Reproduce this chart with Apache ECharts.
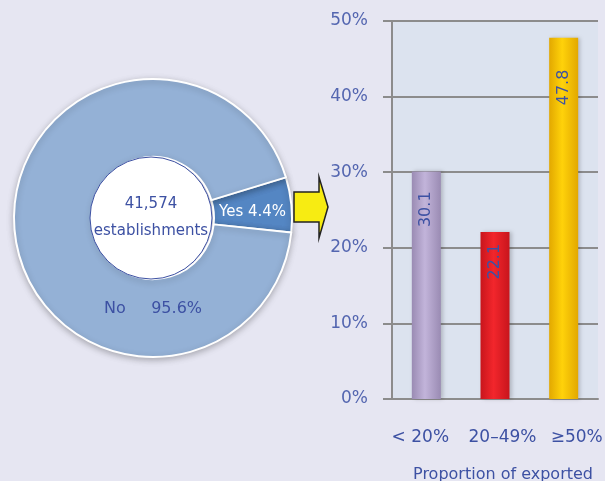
<!DOCTYPE html>
<html>
<head>
<meta charset="utf-8">
<script src="https://cdn.jsdelivr.net/npm/echarts@6/dist/echarts.min.js"></script>
<style>
  html, body { margin: 0; padding: 0; background: #e6e6f2; }
  #chart { width: 605px; height: 481px; }
</style>
</head>
<body>
<div id="chart"></div>
<script>
// pie: exporting establishments
const pieNames = ['Yes', 'No']
const pieValues = [4.4, 95.6]
const totalLabel = '41,574'
const totalUnit = 'establishments'

// bars: proportion of output exported
const barCategories = ['< 20%', '20–49%', '≥50%']
const barValues = [30.1, 22.1, 47.8]
const yTicks = [0, 10, 20, 30, 40, 50]

// styling per bar (not data)
const barColors = [
  ['#9a8bb3', '#c2b4da', '#9a8bb3'],
  ['#c8151c', '#f2262c', '#c8151c'],
  ['#e2a800', '#ffd20a', '#e2a800']
]
const labelGap = [20, 12, 32]
const catPad = [[0, 12, 0, 0], [0, 0, 0, 15], [0, 0, 0, 26]]

const blue = '#3d51a3'
const font = 'DejaVu Sans'

let chart = echarts.init(document.getElementById('chart'))

function cyl(c) {
  return new echarts.graphic.LinearGradient(0, 0, 1, 0, [
    { offset: 0, color: c[0] },
    { offset: 0.45, color: c[1] },
    { offset: 1, color: c[2] }
  ])
}

let option = {
  backgroundColor: '#e6e6f2',
  textStyle: { fontFamily: font },
  grid: {
    left: 392,
    right: 7,
    top: 21,
    bottom: 82,
    outerBoundsMode: 'none',
    containLabel: false,
    show: true,
    backgroundColor: '#dce3ef',
    borderWidth: 0
  },
  xAxis: {
    type: 'category',
    data: barCategories.map((c, i) => ({ value: c, textStyle: { padding: catPad[i] } })),
    axisLine: { lineStyle: { color: '#8c8c8c', width: 2 } },
    axisTick: { show: false },
    axisLabel: { color: blue, fontSize: 17, margin: 30, interval: 0 },
    name: 'Proportion of exported',
    nameLocation: 'middle',
    nameGap: 68,
    nameTextStyle: { color: blue, fontSize: 16, padding: [0, 0, 0, 16] }
  },
  yAxis: {
    type: 'value',
    min: 0,
    max: yTicks[yTicks.length - 1],
    interval: 10,
    axisLine: { show: true, lineStyle: { color: '#8c8c8c', width: 2 } },
    axisTick: { show: true, length: 9, lineStyle: { color: '#8c8c8c', width: 2 } },
    splitLine: { lineStyle: { color: '#8c8c8c', width: 2 } },
    axisLabel: { color: '#5466b0', fontSize: 17, margin: 24, formatter: '{value}%' }
  },
  series: [
    {
      type: 'pie',
      center: [153, 218],
      radius: [61, 139],
      startAngle: 17,
      minAngle: 23,
      avoidLabelOverlap: false,
      silent: true,
      itemStyle: {
        borderColor: '#ffffff',
        borderWidth: 2,
        shadowBlur: 6,
        shadowOffsetY: 2,
        shadowColor: 'rgba(0,0,0,0.25)'
      },
      label: {
        position: 'inside',
        color: '#ffffff',
        fontSize: 15,
        offset: [-3, 4],
        formatter: p => p.name + ' ' + p.value + '%'
      },
      labelLine: { show: false },
      data: [
        { name: pieNames[0], value: pieValues[0], itemStyle: { color: '#5486c3' } },
        { name: pieNames[1], value: pieValues[1], itemStyle: { color: '#94b1d6' }, label: { show: false } }
      ]
    },
    {
      type: 'pie',
      center: [151, 218],
      radius: [0, 61],
      silent: true,
      itemStyle: { color: '#ffffff', borderColor: blue, borderWidth: 1 },
      label: {
        position: 'center',
        color: blue,
        fontSize: 15,
        lineHeight: 27,
        formatter: totalLabel + '\n' + totalUnit
      },
      labelLine: { show: false },
      data: [{ name: 'total', value: 1 }]
    },
    {
      type: 'bar',
      barWidth: 29,
      data: barValues.map((v, i) => ({
        value: v,
        itemStyle: { color: cyl(barColors[i]) },
        label: { distance: labelGap[i] }
      })),
      itemStyle: {
        shadowBlur: 4,
        shadowOffsetX: 2,
        shadowColor: 'rgba(0,0,0,0.2)'
      },
      label: {
        show: true,
        position: 'insideTop',
        rotate: 90,
        align: 'right',
        verticalAlign: 'middle',
        color: blue,
        fontSize: 16
      }
    }
  ],
  graphic: [
    {
      type: 'text',
      left: 104,
      top: 301,
      z: 100,
      style: {
        text: pieNames[1] + '     ' + pieValues[1] + '%',
        fill: blue,
        fontSize: 16,
        fontFamily: font
      }
    },
    {
      type: 'polygon',
      z: 100,
      shape: {
        points: [[294, 192], [319, 192], [319, 177], [328, 207], [319, 238], [319, 222], [294, 222]]
      },
      style: { fill: '#f7ec12', stroke: '#222222', lineWidth: 1.5 }
    }
  ]
}

chart.setOption(option)
</script>
</body>
</html>
